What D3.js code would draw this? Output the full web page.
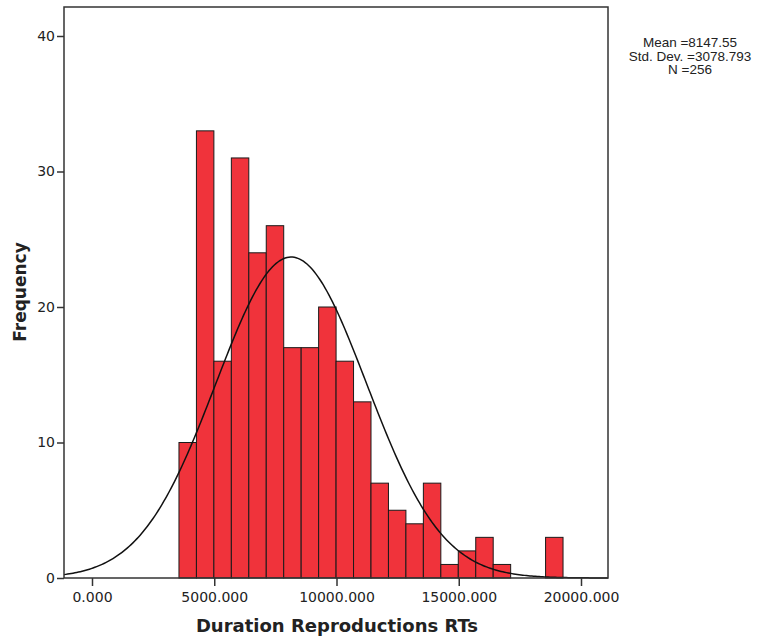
<!DOCTYPE html>
<html>
<head>
<meta charset="utf-8">
<script src="https://cdn.jsdelivr.net/npm/d3@7"></script>
<style>
  body { margin: 0; background: #fff; }
  svg { display: block; }
</style>
</head>
<body>
<script>
var w = 781;
var h = 643;

// histogram bins (Duration Reproductions RTs)
var binStart = 3557;
var binWidth = 714;
var counts = [10, 33, 16, 31, 24, 26, 17, 17, 20, 16, 13, 7, 5, 4, 7, 1, 2, 3, 1, 0, 0, 3];

var xTicks = [0, 5000, 10000, 15000, 20000];
var yTicks = [0, 10, 20, 30, 40];

var stats = {mean: 8147.55, sd: 3078.793, n: 256};
var statLines = ["Mean =8147.55", "Std. Dev. =3078.793", "N =256"];

var bins = counts.map(function(c, i) {
  return {x0: binStart + i * binWidth, x1: binStart + (i + 1) * binWidth, count: c};
});

var x = d3.scaleLinear().domain([0, 20000]).range([92, 581]);
var y = d3.scaleLinear().domain([0, 40]).range([578, 36]);

// plot frame edges
var frameL = 64, frameR = 608, frameT = 7, frameB = 578;

var svg = d3.select("body").append("svg")
  .attr("width", w)
  .attr("height", h);

// bars
svg.append("g")
  .selectAll("rect")
  .data(bins.filter(function(d) { return d.count > 0; }))
  .enter()
  .append("rect")
  .attr("x", function(d) { return x(d.x0); })
  .attr("y", function(d) { return y(d.count); })
  .attr("width", function(d) { return x(d.x1) - x(d.x0); })
  .attr("height", function(d) { return y(0) - y(d.count); })
  .style("fill", "#f0333b")
  .style("stroke", "#1a1a1a")
  .style("stroke-width", 1);

// normal curve
var xMin = x.invert(frameL), xMax = x.invert(frameR);
var curvePts = d3.range(0, 301).map(function(i) {
  var v = xMin + (xMax - xMin) * i / 300;
  var z = (v - stats.mean) / stats.sd;
  var f = stats.n * binWidth / (stats.sd * Math.sqrt(2 * Math.PI)) * Math.exp(-0.5 * z * z);
  return [v, f];
});

svg.append("path")
  .datum(curvePts)
  .attr("d", d3.line().x(function(d) { return x(d[0]); }).y(function(d) { return y(d[1]); }))
  .style("fill", "none")
  .style("stroke", "#111")
  .style("stroke-width", 1.5);

// frame
svg.append("rect")
  .attr("x", frameL)
  .attr("y", frameT)
  .attr("width", frameR - frameL)
  .attr("height", frameB - frameT)
  .style("fill", "none")
  .style("stroke", "#333")
  .style("stroke-width", 1.5);

// x axis
var xAxis = d3.axisBottom(x).tickValues(xTicks).tickSize(8).tickPadding(6)
  .tickFormat(d3.format(".3f"));
var gx = svg.append("g").attr("transform", "translate(0," + frameB + ")").call(xAxis);
gx.select(".domain").remove();
gx.selectAll("line").style("stroke", "#333").style("stroke-width", 1.5);
gx.selectAll("text").style("font-family", "DejaVu Sans").style("font-size", "14px").style("fill", "#222");

// y axis
var yAxis = d3.axisLeft(y).tickValues(yTicks).tickSize(7).tickPadding(2);
var gy = svg.append("g").attr("transform", "translate(" + frameL + ",0)").call(yAxis);
gy.select(".domain").remove();
gy.selectAll("line").style("stroke", "#333").style("stroke-width", 1.5);
gy.selectAll("text").style("font-family", "DejaVu Sans").style("font-size", "14px").style("fill", "#222");

// axis titles
svg.append("text")
  .attr("x", 337)
  .attr("y", 632)
  .attr("text-anchor", "middle")
  .style("font-family", "DejaVu Sans")
  .style("font-weight", "bold")
  .style("font-size", "18px")
  .style("fill", "#222")
  .text("Duration Reproductions RTs");

svg.append("text")
  .attr("transform", "translate(26,292) rotate(-90)")
  .attr("text-anchor", "middle")
  .style("font-family", "DejaVu Sans")
  .style("font-weight", "bold")
  .style("font-size", "17px")
  .style("fill", "#222")
  .text("Frequency");

// stats legend
svg.append("g")
  .selectAll("text")
  .data(statLines)
  .enter()
  .append("text")
  .attr("x", 690)
  .attr("y", function(d, i) { return 47 + i * 13.5; })
  .attr("text-anchor", "middle")
  .style("font-family", "Liberation Sans")
  .style("font-size", "13.5px")
  .style("fill", "#222")
  .text(function(d) { return d; });
</script>
</body>
</html>
